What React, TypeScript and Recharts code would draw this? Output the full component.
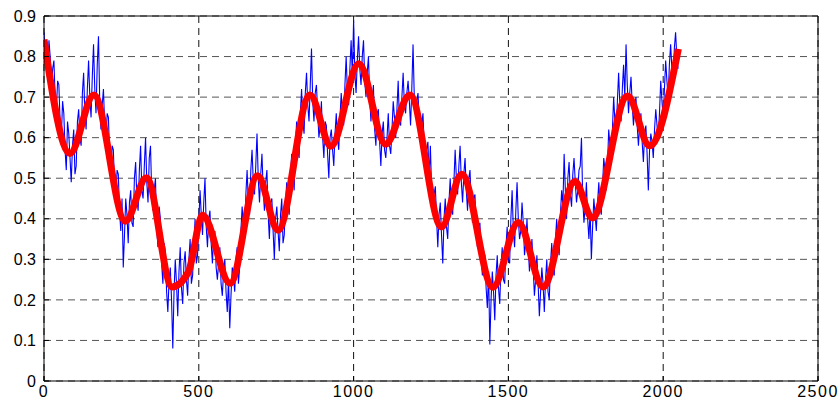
import { LineChart, Line, XAxis, YAxis, CartesianGrid } from "recharts";

// raw signal, sampled every SIGNAL_STEP samples starting at 0
const SIGNAL_STEP = 4;
const signalValues = [
  0.86, 0.81, 0.78, 0.75, 0.84, 0.8, 0.72, 0.77, 0.79, 0.7, 0.67, 0.74, 0.73, 0.64, 0.6, 0.69, 0.66, 0.57, 0.52, 0.64,
  0.61, 0.55, 0.49, 0.58, 0.62, 0.51, 0.53, 0.64, 0.67, 0.6, 0.58, 0.71, 0.76, 0.66, 0.62, 0.72, 0.79, 0.7, 0.65, 0.75,
  0.83, 0.72, 0.66, 0.78, 0.85, 0.69, 0.62, 0.68, 0.72, 0.63, 0.58, 0.66, 0.65, 0.56, 0.51, 0.58, 0.57, 0.48, 0.44, 0.52,
  0.51, 0.42, 0.37, 0.45, 0.28, 0.36, 0.45, 0.41, 0.34, 0.44, 0.47, 0.39, 0.38, 0.5, 0.54, 0.45, 0.42, 0.52, 0.58, 0.47,
  0.45, 0.53, 0.6, 0.49, 0.44, 0.55, 0.58, 0.46, 0.42, 0.47, 0.5, 0.38, 0.33, 0.43, 0.4, 0.29, 0.24, 0.34, 0.32, 0.22,
  0.17, 0.25, 0.28, 0.2, 0.08, 0.22, 0.3, 0.24, 0.16, 0.27, 0.33, 0.23, 0.19, 0.29, 0.32, 0.25, 0.21, 0.3, 0.35, 0.24,
  0.26, 0.33, 0.4, 0.29, 0.31, 0.39, 0.47, 0.41, 0.36, 0.44, 0.5, 0.38, 0.33, 0.4, 0.42, 0.34, 0.29, 0.36, 0.37, 0.28,
  0.25, 0.29, 0.33, 0.24, 0.21, 0.27, 0.3, 0.22, 0.17, 0.25, 0.13, 0.21, 0.28, 0.26, 0.22, 0.3, 0.33, 0.24, 0.28, 0.37,
  0.43, 0.38, 0.35, 0.46, 0.52, 0.44, 0.41, 0.52, 0.57, 0.49, 0.46, 0.53, 0.61, 0.5, 0.44, 0.51, 0.56, 0.47, 0.42, 0.49,
  0.52, 0.41, 0.35, 0.44, 0.45, 0.37, 0.3, 0.4, 0.43, 0.37, 0.32, 0.41, 0.45, 0.34, 0.36, 0.44, 0.49, 0.43, 0.41, 0.5,
  0.56, 0.51, 0.47, 0.58, 0.64, 0.57, 0.55, 0.66, 0.72, 0.64, 0.61, 0.71, 0.76, 0.68, 0.64, 0.73, 0.82, 0.69, 0.64, 0.71,
  0.73, 0.66, 0.6, 0.63, 0.69, 0.6, 0.55, 0.64, 0.63, 0.56, 0.5, 0.6, 0.62, 0.57, 0.53, 0.61, 0.66, 0.6, 0.57, 0.65,
  0.71, 0.66, 0.63, 0.73, 0.8, 0.71, 0.68, 0.77, 0.84, 0.75, 0.89, 0.76, 0.71, 0.79, 0.85, 0.77, 0.73, 0.8, 0.84, 0.74,
  0.7, 0.76, 0.8, 0.7, 0.64, 0.69, 0.73, 0.62, 0.58, 0.66, 0.67, 0.59, 0.53, 0.61, 0.64, 0.57, 0.55, 0.6, 0.66, 0.58,
  0.56, 0.62, 0.69, 0.65, 0.6, 0.67, 0.74, 0.64, 0.63, 0.7, 0.76, 0.68, 0.66, 0.71, 0.74, 0.69, 0.63, 0.72, 0.83, 0.7,
  0.66, 0.69, 0.71, 0.64, 0.6, 0.63, 0.66, 0.58, 0.54, 0.57, 0.59, 0.5, 0.58, 0.47, 0.42, 0.46, 0.48, 0.4, 0.33, 0.41,
  0.44, 0.36, 0.29, 0.4, 0.45, 0.38, 0.35, 0.44, 0.5, 0.43, 0.41, 0.49, 0.57, 0.5, 0.46, 0.53, 0.58, 0.49, 0.44, 0.51,
  0.55, 0.47, 0.42, 0.5, 0.52, 0.43, 0.39, 0.45, 0.46, 0.37, 0.33, 0.38, 0.39, 0.3, 0.26, 0.32, 0.31, 0.23, 0.18, 0.27,
  0.09, 0.2, 0.27, 0.22, 0.15, 0.26, 0.31, 0.23, 0.19, 0.28, 0.33, 0.25, 0.24, 0.33, 0.38, 0.3, 0.29, 0.4, 0.47, 0.37,
  0.33, 0.42, 0.49, 0.4, 0.35, 0.37, 0.44, 0.39, 0.31, 0.34, 0.4, 0.33, 0.27, 0.31, 0.35, 0.28, 0.21, 0.25, 0.31, 0.24,
  0.16, 0.22, 0.28, 0.24, 0.17, 0.25, 0.3, 0.22, 0.2, 0.29, 0.34, 0.27, 0.26, 0.35, 0.4, 0.33, 0.31, 0.41, 0.47, 0.43,
  0.56, 0.47, 0.4, 0.5, 0.54, 0.46, 0.43, 0.51, 0.55, 0.49, 0.44, 0.47, 0.52, 0.53, 0.6, 0.45, 0.39, 0.43, 0.49, 0.4,
  0.35, 0.42, 0.3, 0.38, 0.45, 0.41, 0.37, 0.44, 0.49, 0.43, 0.41, 0.48, 0.55, 0.52, 0.47, 0.53, 0.62, 0.58, 0.55, 0.62,
  0.7, 0.64, 0.61, 0.69, 0.76, 0.68, 0.64, 0.72, 0.78, 0.7, 0.83, 0.73, 0.66, 0.71, 0.75, 0.68, 0.63, 0.68, 0.7, 0.63,
  0.58, 0.63, 0.66, 0.59, 0.54, 0.61, 0.63, 0.56, 0.47, 0.57, 0.61, 0.59, 0.55, 0.62, 0.67, 0.63, 0.6, 0.66, 0.74, 0.69,
  0.65, 0.72, 0.79, 0.74, 0.7, 0.78, 0.83, 0.77, 0.74, 0.82, 0.86, 0.8, 0.77,
];

// smoothed trend: turning points of the filtered curve
const trendX = [
  0, 84, 161, 263, 331, 414, 466, 512, 601, 690, 756, 859, 927,
  1017, 1103, 1182, 1284, 1349, 1450, 1532, 1612, 1715, 1771, 1885, 1956, 2049,
];
const trendY = [
  0.842, 0.561, 0.705, 0.394, 0.501, 0.232, 0.268, 0.409, 0.241, 0.506, 0.372, 0.705, 0.579,
  0.782, 0.584, 0.705, 0.38, 0.51, 0.231, 0.391, 0.232, 0.492, 0.402, 0.703, 0.58, 0.819,
];

const xTicks = [0, 500, 1000, 1500, 2000, 2500];
const yTicks = [0, 0.1, 0.2, 0.3, 0.4, 0.5, 0.6, 0.7, 0.8, 0.9];

const signal = signalValues.map((y, i) => ({ x: i * SIGNAL_STEP, y }));
const trend = trendX.map((x, i) => ({ x, y: trendY[i] }));

const tickFont = { fontSize: 16, fill: "#000", fontFamily: "'Liberation Sans', Arial, sans-serif" };

export default function App() {
  return (
    <div style={{ position: "absolute", left: 0, top: 0, width: 839, height: 402, background: "#fff" }}>
      <LineChart width={839} height={402} margin={{ top: 15, right: 20, bottom: 0, left: 0 }}>
        <CartesianGrid
          xAxisId="b"
          yAxisId="l"
          vertical={false}
          stroke="#555"
          strokeDasharray="7 5"
          horizontalValues={yTicks}
        />
        <CartesianGrid
          xAxisId="b"
          yAxisId="l"
          horizontal={false}
          stroke="#111"
          strokeDasharray="7 5"
          verticalValues={xTicks}
        />
        <XAxis
          xAxisId="b"
          type="number"
          dataKey="x"
          domain={[0, 2500]}
          ticks={xTicks}
          height={21}
          stroke="#000"
          tickSize={-5}
          tickMargin={10}
          tick={{ ...tickFont, letterSpacing: 1.5 }}
          allowDataOverflow
        />
        <XAxis
          xAxisId="t"
          orientation="top"
          type="number"
          dataKey="x"
          domain={[0, 2500]}
          ticks={xTicks}
          height={1}
          stroke="#000"
          tickSize={-5}
          tick={false}
          allowDataOverflow
        />
        <YAxis
          yAxisId="l"
          type="number"
          domain={[0, 0.9]}
          ticks={yTicks}
          width={44}
          stroke="#000"
          tickSize={-5}
          tickMargin={13}
          tick={tickFont}
          tickFormatter={(v) => String(v)}
          allowDataOverflow
        />
        <YAxis
          yAxisId="r"
          orientation="right"
          type="number"
          domain={[0, 0.9]}
          ticks={yTicks}
          width={1}
          stroke="#000"
          tickSize={-5}
          tick={false}
          allowDataOverflow
        />
        <Line
          xAxisId="b"
          yAxisId="l"
          data={signal}
          dataKey="y"
          type="linear"
          stroke="#0000ff"
          strokeWidth={1.1}
          dot={false}
          activeDot={false}
          isAnimationActive={false}
        />
        <Line
          xAxisId="b"
          yAxisId="l"
          data={trend}
          dataKey="y"
          type="monotone"
          stroke="#ff0000"
          strokeWidth={7}
          dot={false}
          activeDot={false}
          isAnimationActive={false}
        />
      </LineChart>
    </div>
  );
}
